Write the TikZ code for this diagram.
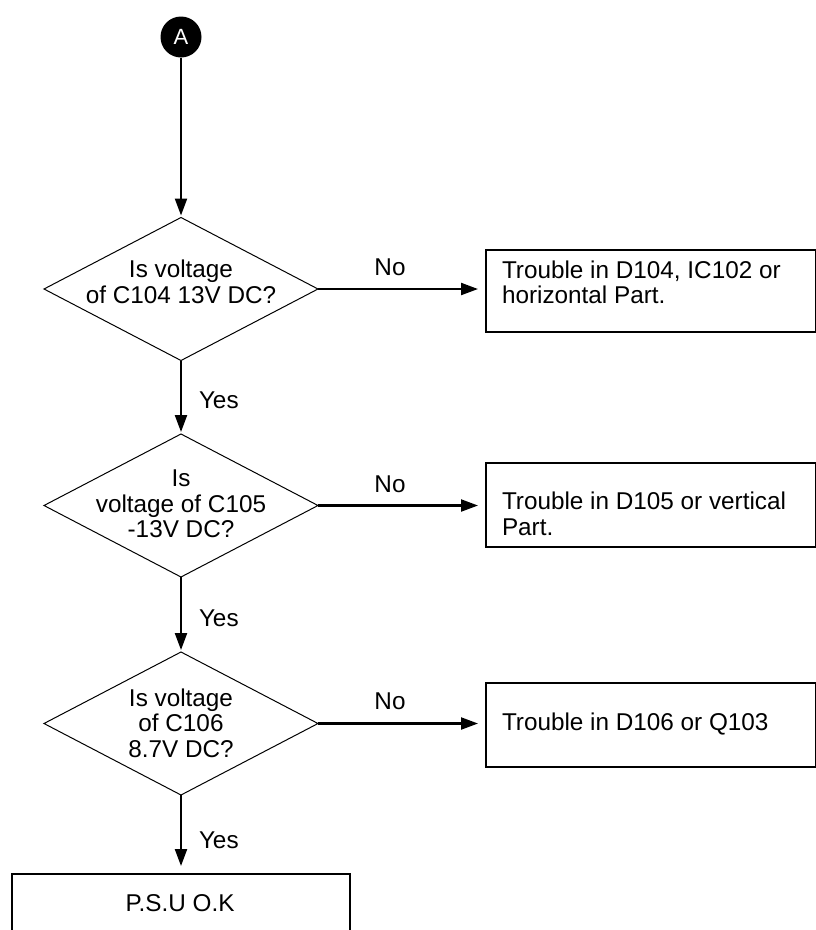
\documentclass[tikz,border=0pt]{standalone}
\usepackage{fontspec}
\setmainfont{Liberation Sans}
\usetikzlibrary{shapes.geometric,arrows.meta}
\begin{document}
\begin{tikzpicture}[x=1pt,y=-1pt,
  every node/.style={font=\fontsize{24.3}{25.5}\selectfont, inner sep=0pt, outer sep=0pt},
  dec/.style={draw, shape=diamond, minimum width=274pt, minimum height=143pt, line width=1pt},
  box/.style={draw, rectangle, line width=1.2pt},
  txt/.style={align=center},
  ltxt/.style={align=left, anchor=west},
  lbl/.style={anchor=base},
  ylbl/.style={anchor=base west},
  flow/.style={line width=2.2pt, -{Triangle[length=17pt,width=12pt]}},
]
\clip (0,0) rectangle (816,930);

% start connector
\node[circle, fill=black, minimum size=41pt, text=white, font=\fontsize{22}{22}\selectfont] (A) at (181,37) {A};

% decisions
\node[dec] (d1) at (181,289) {};
\node[dec] (d2) at (181,505.5) {};
\node[dec] (d3) at (181,723.5) {};
\node[txt] (t1) at (181,282) {Is voltage\\of C104 13V DC?};
\node[txt] (t2) at (181,504) {Is\\voltage of C105\\-13V DC?};
\node[txt] (t3) at (181,723) {Is voltage\\of C106\\8.7V DC?};

% result boxes
\node[box, minimum width=329.5pt, minimum height=82pt] (b1) at (650.75,291) {};
\node[box, minimum width=329.5pt, minimum height=84pt] (b2) at (650.75,505) {};
\node[box, minimum width=329.5pt, minimum height=84pt] (b3) at (650.75,725) {};
\node[ltxt] (r1) at (502,282.4) {Trouble in D104, IC102 or\\horizontal Part.};
\node[ltxt] (r2) at (502,514) {Trouble in D105 or vertical\\Part.};
\node[ylbl] (r3) at (502,730) {Trouble in D106 or Q103};

\node[box, minimum width=338pt, minimum height=100pt] (ok) at (181,924) {};
\node[lbl] (okt) at (180,911) {P.S.U O.K};

% connectors
\draw[flow, shorten >=2pt] (A) -- (d1.north);
\draw[flow, shorten >=2pt] (d1.south) -- (d2.north);
\draw[flow, shorten >=2pt] (d2.south) -- (d3.north);
\draw[flow, shorten >=8pt] (d3.south) -- (ok.north);
\draw[flow, shorten >=8pt] (d1.east) -- (d1.east -| b1.west);
\draw[flow, shorten >=8pt] (d2.east) -- (d2.east -| b2.west);
\draw[flow, shorten >=8pt] (d3.east) -- (d3.east -| b3.west);

% labels
\node[lbl] (n1) at (390,275) {No};
\node[lbl] (n2) at (390,492) {No};
\node[lbl] (n3) at (390,709) {No};
\node[ylbl] (y1) at (199,408) {Yes};
\node[ylbl] (y2) at (199,626) {Yes};
\node[ylbl] (y3) at (199,848) {Yes};
\end{tikzpicture}
\end{document}
